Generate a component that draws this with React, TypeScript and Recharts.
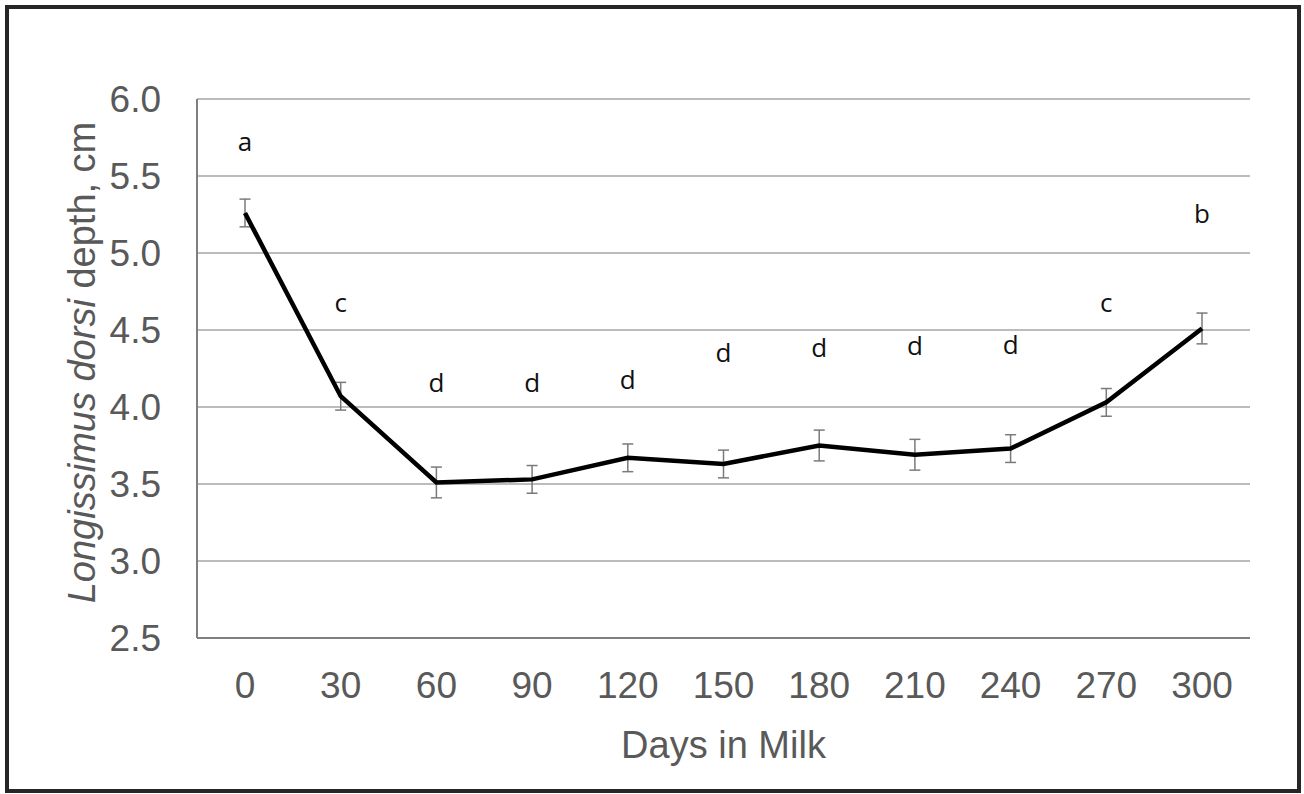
import { LineChart, Line, XAxis, YAxis, CartesianGrid, ErrorBar, LabelList, Label } from 'recharts';

const days = ['0', '30', '60', '90', '120', '150', '180', '210', '240', '270', '300'];
const depth = [5.26, 4.07, 3.51, 3.53, 3.67, 3.63, 3.75, 3.69, 3.73, 4.03, 4.51];
const sem = [0.09, 0.09, 0.1, 0.09, 0.09, 0.09, 0.1, 0.1, 0.09, 0.09, 0.1];
const letters = ['a', 'c', 'd', 'd', 'd', 'd', 'd', 'd', 'd', 'c', 'b'];
const letterAt = [5.73, 4.68, 4.16, 4.16, 4.18, 4.36, 4.39, 4.4, 4.41, 4.68, 5.26];
const yTicks = [2.5, 3.0, 3.5, 4.0, 4.5, 5.0, 5.5, 6.0];

const chartData = days.map((d, i) => ({
  day: d,
  depth: depth[i],
  sem: sem[i],
  letter: letters[i],
  letterAt: letterAt[i],
}));

const FONT = 'Liberation Sans, Arial, sans-serif';
const GREY = '#595959';

const YTitle = ({ viewBox }: any) => {
  const x = 82;
  const y = viewBox.y + viewBox.height / 2 - 6;
  return (
    <text
      x={x}
      y={y}
      transform={`rotate(-90, ${x}, ${y})`}
      textAnchor="middle"
      dominantBaseline="central"
      fill={GREY}
      fontFamily={FONT}
      fontSize={38}
    >
      <tspan fontStyle="italic">Longissimus</tspan>{' '}
      <tspan fontStyle="italic">dorsi</tspan> depth, cm
    </text>
  );
};

const XTitle = ({ viewBox }: any) => (
  <text
    x={viewBox.x + viewBox.width / 2}
    y={745}
    textAnchor="middle"
    dominantBaseline="central"
    fill={GREY}
    fontFamily={FONT}
    fontSize={38}
  >
    Days in Milk
  </text>
);

const LetterMark = (props: any) => (
  <text
    x={props.x}
    y={props.y}
    textAnchor="middle"
    dominantBaseline="central"
    fill="#111"
    fontFamily="Open Sans, sans-serif"
    fontSize={26}
  >
    {props.value}
  </text>
);

export default function App() {
  return (
    <div style={{ position: 'absolute', left: 0, top: 0, width: 1304, height: 794, background: '#fff' }}>
      <div
        style={{
          position: 'absolute',
          left: 5,
          top: 5,
          width: 1296,
          height: 788,
          border: '4px solid #262626',
          boxSizing: 'border-box',
        }}
      />
      <div style={{ position: 'absolute', left: 0, top: 0 }}>
        <LineChart
          width={1304}
          height={794}
          data={chartData}
          margin={{ top: 99, right: 54, bottom: 56, left: 0 }}
        >
          <CartesianGrid vertical={false} stroke="#a6a6a6" strokeWidth={1.5} />
          <XAxis
            dataKey="day"
            height={100}
            padding={{ left: 48, right: 48 }}
            tickLine={false}
            tickSize={0}
            tickMargin={34}
            axisLine={{ stroke: '#7f7f7f', strokeWidth: 2 }}
            tick={{ fill: GREY, fontSize: 37, fontFamily: FONT }}
          >
            <Label content={<XTitle />} />
          </XAxis>
          <YAxis
            width={197}
            domain={[2.5, 6]}
            ticks={yTicks}
            interval={0}
            tickFormatter={(v: number) => v.toFixed(1)}
            tickLine={false}
            tickSize={0}
            tickMargin={36}
            axisLine={{ stroke: '#7f7f7f', strokeWidth: 2 }}
            tick={{ fill: GREY, fontSize: 37, fontFamily: FONT }}
          >
            <Label content={<YTitle />} />
          </YAxis>
          <Line
            dataKey="letterAt"
            stroke="none"
            dot={false}
            activeDot={false}
            isAnimationActive={false}
          >
            <LabelList dataKey="letter" content={<LetterMark />} />
          </Line>
          <Line
            dataKey="depth"
            stroke="#000"
            strokeWidth={4.5}
            dot={false}
            activeDot={false}
            isAnimationActive={false}
          >
            <ErrorBar dataKey="sem" width={5.5} stroke="#7a7a7a" strokeWidth={1.5} direction="y" />
          </Line>
        </LineChart>
      </div>
    </div>
  );
}
